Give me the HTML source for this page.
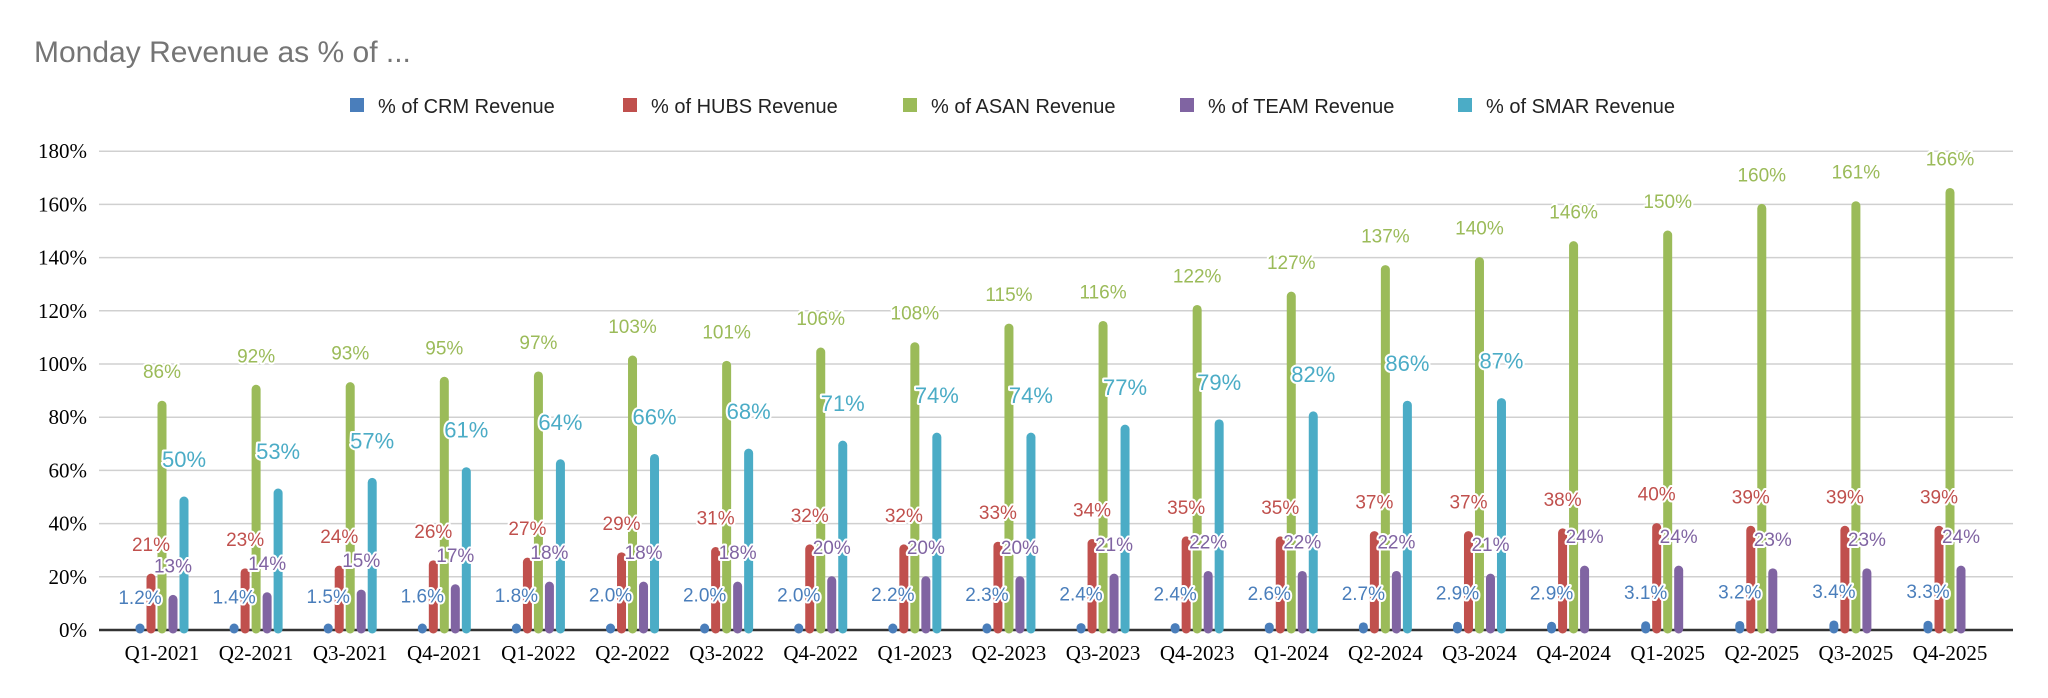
<!DOCTYPE html>
<html><head><meta charset="utf-8"><style>
body{margin:0;background:#fff;width:2048px;height:698px;overflow:hidden}
svg{display:block}
</style></head><body>
<svg id="chart" width="2048" height="698" xmlns="http://www.w3.org/2000/svg">
<text x="34" y="62" font-family="Liberation Sans, sans-serif" font-size="30" fill="#757575">Monday Revenue as % of ...</text>
<g id="grid"></g><g id="bars"></g><g id="labels"></g><g id="legend"></g>
</svg>
<script>
const categories=["Q1-2021","Q2-2021","Q3-2021","Q4-2021","Q1-2022","Q2-2022","Q3-2022","Q4-2022","Q1-2023","Q2-2023","Q3-2023","Q4-2023","Q1-2024","Q2-2024","Q3-2024","Q4-2024","Q1-2025","Q2-2025","Q3-2025","Q4-2025"];
const seriesNames=["% of CRM Revenue","% of HUBS Revenue","% of ASAN Revenue","% of TEAM Revenue","% of SMAR Revenue"];
const crm=[1.2,1.4,1.5,1.6,1.8,2.0,2.0,2.0,2.2,2.3,2.4,2.4,2.6,2.7,2.9,2.9,3.1,3.2,3.4,3.3];
const hubs=[21,23,24,26,27,29,31,32,32,33,34,35,35,37,37,38,40,39,39,39];
const asan=[86,92,93,95,97,103,101,106,108,115,116,122,127,137,140,146,150,160,161,166];
const team=[13,14,15,17,18,18,18,20,20,20,21,22,22,22,21,24,24,23,23,24];
const smar=[50,53,57,61,64,66,68,71,74,74,77,79,82,86,87,null,null,null,null,null];
const yTicks=[0,20,40,60,80,100,120,140,160,180];

const NS="http://www.w3.org/2000/svg";
const colors=["#4a7ebb","#c0504d","#9bbb59","#8064a2","#4bacc6"];
const series=[crm,hubs,asan,team,smar];
const y0=630,pxPer=(630-364)/100,x0=162,band=(1950-162)/19;
const y=v=>y0-v*pxPer;
const xc=i=>x0+i*band;
function mk(tag,attrs,parent){const e=document.createElementNS(NS,tag);for(const k in attrs)e.setAttribute(k,attrs[k]);parent.appendChild(e);return e;}
const grid=document.getElementById('grid'),bars=document.getElementById('bars'),labels=document.getElementById('labels'),legend=document.getElementById('legend');
yTicks.forEach(t=>{
  const l=mk('line',{x1:99,x2:2013,y1:y(t),y2:y(t),stroke:t===0?'#333':'#d0d0d0','stroke-width':t===0?2.5:1.5},grid);
  
  
  const tx=mk('text',{x:87,y:y(t)+7,'text-anchor':'end','font-family':'Liberation Serif, serif','font-size':21,fill:'#000'},grid);
  tx.textContent=t+'%';
  
  
});
categories.forEach((c,i)=>{
  const tx=mk('text',{x:xc(i),y:660,'text-anchor':'middle','font-family':'Liberation Serif, serif','font-size':21,fill:'#000'},grid);
  tx.textContent=c;
  
  
});
series.forEach((s,si)=>{
  s.forEach((v,i)=>{
    if(v==null)return;
    const x=xc(i)+(si-2)*11;
    const top=y(v);
    const r=mk('line',{x1:x,x2:x,y1:y0-1,y2:Math.min(top+4,y0-2),stroke:colors[si],'stroke-width':9,'stroke-linecap':'round'},bars);
    
    
    const big=si===4;
    const tx=mk('text',{x:x,y:top-(big?38:30)+(big?8:7),'text-anchor':'middle','font-family':'Liberation Sans, sans-serif','font-size':big?22:19,fill:colors[si],stroke:'#fff','stroke-width':4,'paint-order':'stroke','stroke-linejoin':'round'},labels);
    tx.textContent=(si===0?v.toFixed(1):v)+'%';
    
    
  });
});
const lx=[350,623,903,1180,1458];
seriesNames.forEach((n,i)=>{
  const g=mk('g',{},legend);
  
  
  mk('rect',{x:lx[i],y:98,width:14,height:14,fill:colors[i]},g);
  const t=mk('text',{x:lx[i]+28,y:113,'font-family':'Liberation Sans, sans-serif','font-size':20,fill:'#222'},g);
  t.textContent=n;
});
</script>
</body></html>
